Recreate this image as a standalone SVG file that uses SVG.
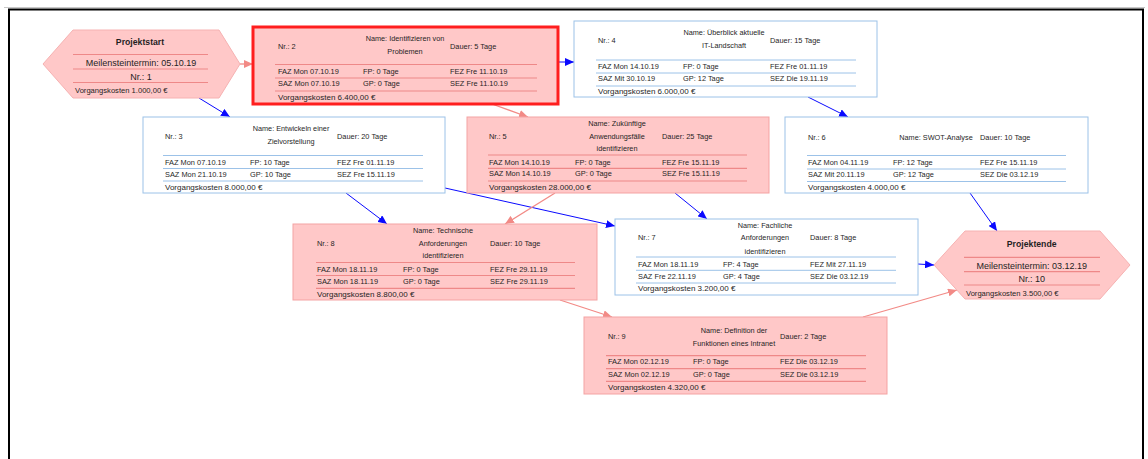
<svg xmlns="http://www.w3.org/2000/svg" width="1148" height="459" viewBox="0 0 1148 459">
  <defs>
    <marker id="arrBlue" markerUnits="userSpaceOnUse" markerWidth="9" markerHeight="8" refX="9" refY="4" orient="auto">
      <path d="M0,0 L9,4 L0,8 z" fill="#0a0aff"/>
    </marker>
    <marker id="arrPink" markerUnits="userSpaceOnUse" markerWidth="9" markerHeight="8" refX="9" refY="4" orient="auto">
      <path d="M0,0 L9,4 L0,8 z" fill="#f28a86"/>
    </marker>
  </defs>
  <style>
    text { font-family: "Liberation Sans", Arial, sans-serif; fill: #1f1f1f; }
    .t { font-size: 7.4px; }
    .nm { font-size: 7.3px; text-anchor: middle; }
    .c { font-size: 8px; }
    .hx { font-size: 9px; text-anchor: middle; }
    .hxb { font-size: 8.7px; font-weight: bold; text-anchor: middle; }
    .hxc { font-size: 7.6px; }
    .box-w { fill: #ffffff; stroke: #9cc2e8; stroke-width: 1; }
    .box-p { fill: #ffc8c8; stroke: #f4a3a3; stroke-width: 1; }
    .box-crit { fill: #ffc8c8; stroke: #ff1e1e; stroke-width: 3; }
    .ln-w { stroke: #9cc2e8; stroke-width: 1; }
    .ln-p { stroke: #ee8888; stroke-width: 1.2; }
    .hex { fill: #ffc8c8; stroke: #f6b2b2; stroke-width: 1; }
    .cb { stroke: #0a0aff; stroke-width: 1; fill: none; marker-end: url(#arrBlue); }
    .cp { stroke: #f28a86; stroke-width: 1.3; fill: none; marker-end: url(#arrPink); }
  </style>

  <!-- page frame -->
  <rect x="0" y="0" width="1148" height="459" fill="#ffffff"/>
  <line x1="4" y1="7.5" x2="1145" y2="7.5" stroke="#c8c8c8" stroke-width="1"/>
  <rect x="9" y="9.5" width="1134" height="460" fill="none" stroke="#000000" stroke-width="2"/>

  <!-- connectors -->
  <g id="connectors">
    <line class="cp" x1="240" y1="64" x2="253" y2="64"/>
    <line class="cb" x1="199" y1="98" x2="230" y2="117"/>
    <line class="cb" x1="558" y1="62" x2="574" y2="62"/>
    <line class="cp" x1="492" y1="104" x2="528" y2="117"/>
    <line class="cb" x1="808" y1="97" x2="848" y2="117"/>
    <line class="cb" x1="346" y1="193" x2="387" y2="224"/>
    <line class="cb" x1="445" y1="188" x2="615" y2="226"/>
    <line class="cp" x1="555" y1="193" x2="505" y2="224"/>
    <line class="cb" x1="675" y1="193" x2="707" y2="219"/>
    <line class="cb" x1="970" y1="193" x2="997" y2="231"/>
    <line class="cb" x1="918" y1="264" x2="934" y2="265"/>
    <line class="cp" x1="560" y1="300" x2="612" y2="317"/>
    <line class="cp" x1="863" y1="317" x2="957" y2="290"/>
  </g>

  <!-- start milestone -->
  <g id="projektstart">
    <polygon class="hex" points="43,64 73,30 219,30 240,64 219,98 73,98"/>
    <line class="ln-p" x1="73" y1="54.5" x2="208" y2="54.5"/>
    <line class="ln-p" x1="73" y1="69" x2="208" y2="69"/>
    <line class="ln-p" x1="73" y1="82.5" x2="208" y2="82.5"/>
    <text class="hxb" x="140" y="45">Projektstart</text>
    <text class="hx" x="141" y="66">Meilensteintermin: 05.10.19</text>
    <text class="hx" x="141" y="79.5">Nr.: 1</text>
    <text class="hxc" x="75" y="93">Vorgangskosten 1.000,00 €</text>
  </g>

  <!-- activity 2 (critical) -->
  <g id="node2" transform="translate(253,27)">
    <rect class="box-crit" x="0" y="0" width="305" height="77"/>
    <line class="ln-p" x1="22" y1="37.5" x2="284" y2="37.5"/>
    <line class="ln-p" x1="22" y1="51" x2="284" y2="51"/>
    <line class="ln-p" x1="22" y1="64" x2="284" y2="64"/>
    <text class="t" x="25" y="22">Nr.: 2</text>
    <text class="nm" x="152" y="14">Name: Identifizieren von</text>
    <text class="nm" x="152" y="27">Problemen</text>
    <text class="t" x="197" y="22">Dauer: 5 Tage</text>
    <text class="t" x="25" y="47">FAZ Mon 07.10.19</text>
    <text class="t" x="110" y="47">FP: 0 Tage</text>
    <text class="t" x="197" y="47">FEZ Fre 11.10.19</text>
    <text class="t" x="25" y="59">SAZ Mon 07.10.19</text>
    <text class="t" x="110" y="59">GP: 0 Tage</text>
    <text class="t" x="197" y="59">SEZ Fre 11.10.19</text>
    <text class="c" x="25" y="73">Vorgangskosten 6.400,00 €</text>
  </g>

  <!-- activity 4 -->
  <g id="node4" transform="translate(574,21)">
    <rect class="box-w" x="0" y="0" width="303" height="76"/>
    <line class="ln-w" x1="22" y1="39" x2="282" y2="39"/>
    <line class="ln-w" x1="22" y1="52" x2="282" y2="52"/>
    <line class="ln-w" x1="22" y1="65" x2="282" y2="65"/>
    <text class="t" x="24" y="22">Nr.: 4</text>
    <text class="nm" x="150" y="14">Name: Überblick aktuelle</text>
    <text class="nm" x="150" y="27">IT-Landschaft</text>
    <text class="t" x="196" y="22">Dauer: 15 Tage</text>
    <text class="t" x="24" y="48">FAZ Mon 14.10.19</text>
    <text class="t" x="109" y="48">FP: 0 Tage</text>
    <text class="t" x="196" y="48">FEZ Fre 01.11.19</text>
    <text class="t" x="24" y="60">SAZ Mit 30.10.19</text>
    <text class="t" x="109" y="60">GP: 12 Tage</text>
    <text class="t" x="196" y="60">SEZ Die 19.11.19</text>
    <text class="c" x="24" y="73">Vorgangskosten 6.000,00 €</text>
  </g>

  <!-- activity 3 -->
  <g id="node3" transform="translate(143,117)">
    <rect class="box-w" x="0" y="0" width="302" height="76"/>
    <line class="ln-w" x1="20" y1="38.5" x2="280" y2="38.5"/>
    <line class="ln-w" x1="20" y1="51.5" x2="280" y2="51.5"/>
    <line class="ln-w" x1="20" y1="64" x2="280" y2="64"/>
    <text class="t" x="22" y="22">Nr.: 3</text>
    <text class="nm" x="148" y="14">Name: Entwickeln einer</text>
    <text class="nm" x="148" y="27">Zielvorstellung</text>
    <text class="t" x="194" y="22">Dauer: 20 Tage</text>
    <text class="t" x="22" y="48">FAZ Mon 07.10.19</text>
    <text class="t" x="107" y="48">FP: 10 Tage</text>
    <text class="t" x="194" y="48">FEZ Fre 01.11.19</text>
    <text class="t" x="22" y="59.5">SAZ Mon 21.10.19</text>
    <text class="t" x="107" y="59.5">GP: 10 Tage</text>
    <text class="t" x="194" y="59.5">SEZ Fre 15.11.19</text>
    <text class="c" x="22" y="73">Vorgangskosten 8.000,00 €</text>
  </g>

  <!-- activity 5 -->
  <g id="node5" transform="translate(467,117)">
    <rect class="box-p" x="0" y="0" width="302" height="76"/>
    <line class="ln-p" x1="21" y1="38" x2="280" y2="38"/>
    <line class="ln-p" x1="21" y1="51.3" x2="280" y2="51.3"/>
    <line class="ln-p" x1="21" y1="64" x2="280" y2="64"/>
    <text class="t" x="22" y="21.5">Nr.: 5</text>
    <text class="nm" x="150" y="9">Name: Zukünftige</text>
    <text class="nm" x="150" y="21.5">Anwendungsfälle</text>
    <text class="nm" x="150" y="34">identifizieren</text>
    <text class="t" x="195" y="21.5">Dauer: 25 Tage</text>
    <text class="t" x="22" y="47.5">FAZ Mon 14.10.19</text>
    <text class="t" x="108" y="47.5">FP: 0 Tage</text>
    <text class="t" x="195" y="47.5">FEZ Fre 15.11.19</text>
    <text class="t" x="22" y="59">SAZ Mon 14.10.19</text>
    <text class="t" x="108" y="59">GP: 0 Tage</text>
    <text class="t" x="195" y="59">SEZ Fre 15.11.19</text>
    <text class="c" x="22" y="73">Vorgangskosten 28.000,00 €</text>
  </g>

  <!-- activity 6 -->
  <g id="node6" transform="translate(785,117)">
    <rect class="box-w" x="0" y="0" width="303" height="76"/>
    <line class="ln-w" x1="22" y1="38.5" x2="281" y2="38.5"/>
    <line class="ln-w" x1="22" y1="52" x2="281" y2="52"/>
    <line class="ln-w" x1="22" y1="64.5" x2="281" y2="64.5"/>
    <text class="t" x="23" y="22.5">Nr.: 6</text>
    <text class="nm" x="151" y="22.5">Name: SWOT-Analyse</text>
    <text class="t" x="195" y="22.5">Dauer: 10 Tage</text>
    <text class="t" x="23" y="48">FAZ Mon 04.11.19</text>
    <text class="t" x="108" y="48">FP: 12 Tage</text>
    <text class="t" x="195" y="48">FEZ Fre 15.11.19</text>
    <text class="t" x="23" y="59.5">SAZ Mit 20.11.19</text>
    <text class="t" x="108" y="59.5">GP: 12 Tage</text>
    <text class="t" x="195" y="59.5">SEZ Die 03.12.19</text>
    <text class="c" x="23" y="73">Vorgangskosten 4.000,00 €</text>
  </g>

  <!-- activity 8 -->
  <g id="node8" transform="translate(293,224)">
    <rect class="box-p" x="0" y="0" width="304" height="76"/>
    <line class="ln-p" x1="23" y1="38.5" x2="282" y2="38.5"/>
    <line class="ln-p" x1="23" y1="51.5" x2="282" y2="51.5"/>
    <line class="ln-p" x1="23" y1="64.3" x2="282" y2="64.3"/>
    <text class="t" x="24" y="21.7">Nr.: 8</text>
    <text class="nm" x="150" y="8.5">Name: Technische</text>
    <text class="nm" x="150" y="21.7">Anforderungen</text>
    <text class="nm" x="150" y="34.3">identifizieren</text>
    <text class="t" x="197" y="21.7">Dauer: 10 Tage</text>
    <text class="t" x="24" y="47.7">FAZ Mon 18.11.19</text>
    <text class="t" x="110" y="47.7">FP: 0 Tage</text>
    <text class="t" x="197" y="47.7">FEZ Fre 29.11.19</text>
    <text class="t" x="24" y="60.3">SAZ Mon 18.11.19</text>
    <text class="t" x="110" y="60.3">GP: 0 Tage</text>
    <text class="t" x="197" y="60.3">SEZ Fre 29.11.19</text>
    <text class="c" x="24" y="73">Vorgangskosten 8.800,00 €</text>
  </g>

  <!-- activity 7 -->
  <g id="node7" transform="translate(615,219)">
    <rect class="box-w" x="0" y="0" width="303" height="76"/>
    <line class="ln-w" x1="21" y1="38" x2="281" y2="38"/>
    <line class="ln-w" x1="21" y1="51.3" x2="281" y2="51.3"/>
    <line class="ln-w" x1="21" y1="64" x2="281" y2="64"/>
    <text class="t" x="23" y="21.3">Nr.: 7</text>
    <text class="nm" x="150" y="9">Name: Fachliche</text>
    <text class="nm" x="150" y="21.3">Anforderungen</text>
    <text class="nm" x="150" y="34.7">identifizieren</text>
    <text class="t" x="195" y="21.3">Dauer: 8 Tage</text>
    <text class="t" x="23" y="48">FAZ Mon 18.11.19</text>
    <text class="t" x="108" y="48">FP: 4 Tage</text>
    <text class="t" x="195" y="48">FEZ Mit 27.11.19</text>
    <text class="t" x="23" y="59.7">SAZ Fre 22.11.19</text>
    <text class="t" x="108" y="59.7">GP: 4 Tage</text>
    <text class="t" x="195" y="59.7">SEZ Die 03.12.19</text>
    <text class="c" x="23" y="72">Vorgangskosten 3.200,00 €</text>
  </g>

  <!-- end milestone -->
  <g id="projektende">
    <polygon class="hex" points="934,265 965,231 1100,231 1130,265 1100,299 965,299"/>
    <line class="ln-p" x1="964" y1="257.3" x2="1100" y2="257.3"/>
    <line class="ln-p" x1="964" y1="271.7" x2="1100" y2="271.7"/>
    <line class="ln-p" x1="964" y1="285" x2="1100" y2="285"/>
    <text class="hxb" x="1031.7" y="247">Projektende</text>
    <text class="hx" x="1031.7" y="268.5">Meilensteintermin: 03.12.19</text>
    <text class="hx" x="1031.7" y="282">Nr.: 10</text>
    <text class="hxc" x="966" y="295.7">Vorgangskosten 3.500,00 €</text>
  </g>

  <!-- activity 9 -->
  <g id="node9" transform="translate(584,317)">
    <rect class="box-p" x="0" y="0" width="303" height="77"/>
    <line class="ln-p" x1="22" y1="38.7" x2="282" y2="38.7"/>
    <line class="ln-p" x1="22" y1="51.7" x2="282" y2="51.7"/>
    <line class="ln-p" x1="22" y1="64.3" x2="282" y2="64.3"/>
    <text class="t" x="24" y="21.7">Nr.: 9</text>
    <text class="nm" x="150" y="16">Name: Definition der</text>
    <text class="nm" x="150" y="28.7">Funktionen eines Intranet</text>
    <text class="t" x="196" y="21.7">Dauer: 2 Tage</text>
    <text class="t" x="24" y="46.7">FAZ Mon 02.12.19</text>
    <text class="t" x="109" y="46.7">FP: 0 Tage</text>
    <text class="t" x="196" y="46.7">FEZ Die 03.12.19</text>
    <text class="t" x="24" y="60">SAZ Mon 02.12.19</text>
    <text class="t" x="109" y="60">GP: 0 Tage</text>
    <text class="t" x="196" y="60">SEZ Die 03.12.19</text>
    <text class="c" x="24" y="72.7">Vorgangskosten 4.320,00 €</text>
  </g>
</svg>
